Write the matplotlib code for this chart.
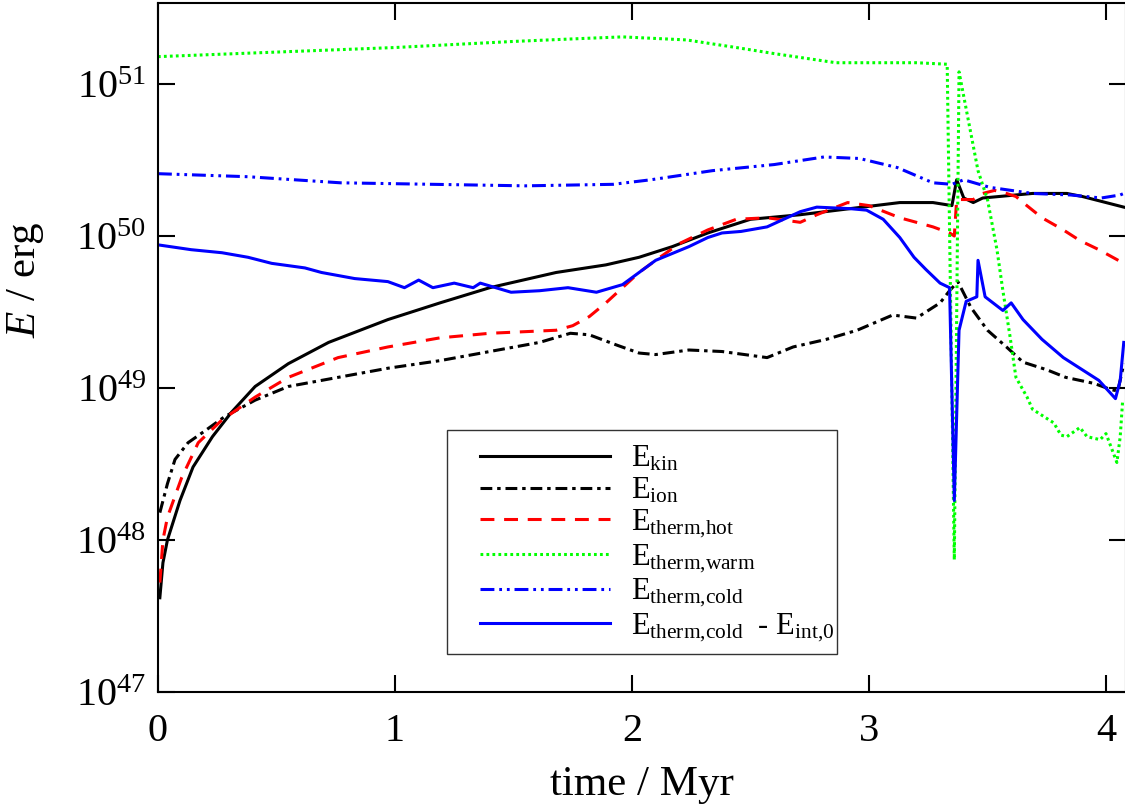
import numpy as np
import matplotlib
matplotlib.use("Agg")
import matplotlib.pyplot as plt
from matplotlib.ticker import LogLocator, NullLocator, FixedLocator
from matplotlib.patches import Rectangle

plt.rcParams['font.family'] = 'serif'
plt.rcParams['font.serif'] = ['Liberation Serif', 'DejaVu Serif']
plt.rcParams['mathtext.fontset'] = 'custom'
plt.rcParams['mathtext.rm'] = 'Liberation Serif'
plt.rcParams['mathtext.it'] = 'Liberation Serif:italic'
plt.rcParams['mathtext.bf'] = 'Liberation Serif:bold'
plt.rcParams['lines.scale_dashes'] = False

# ---- data (time in Myr, log10 of energy in erg) ----
t_kin = [0.008, 0.021, 0.04, 0.093, 0.148, 0.23, 0.31, 0.41, 0.55, 0.72, 0.97, 1.19, 1.40, 1.68, 1.89,
         2.03, 2.17, 2.32, 2.50, 2.71, 2.92, 3.13, 3.27, 3.35, 3.37, 3.40, 3.44, 3.48, 3.69, 3.835, 3.90, 4.075]
lg_kin = [47.62, 47.85, 48.0, 48.26, 48.48, 48.68, 48.84, 49.01, 49.16, 49.30, 49.45, 49.56, 49.66, 49.76, 49.81,
          49.86, 49.93, 50.02, 50.11, 50.14, 50.18, 50.22, 50.22, 50.20, 50.37, 50.25, 50.22, 50.25, 50.28, 50.28, 50.26, 50.19]

t_ion = [0.008, 0.04, 0.072, 0.127, 0.20, 0.28, 0.41, 0.55, 0.76, 0.97, 1.19, 1.40, 1.61, 1.74, 1.82, 1.94,
         2.03, 2.10, 2.24, 2.38, 2.57, 2.68, 2.82, 2.95, 3.10, 3.20, 3.30, 3.34, 3.375, 3.43, 3.50, 3.58,
         3.65, 3.75, 3.83, 3.95, 4.02, 4.05, 4.075]
lg_ion = [48.18, 48.37, 48.53, 48.64, 48.72, 48.81, 48.92, 49.01, 49.07, 49.13, 49.18, 49.24, 49.30, 49.36, 49.35, 49.28,
          49.23, 49.22, 49.25, 49.24, 49.20, 49.27, 49.32, 49.38, 49.48, 49.46, 49.56, 49.64, 49.70, 49.53, 49.38, 49.27,
          49.17, 49.12, 49.07, 49.03, 48.99, 48.98, 49.16]

t_hot = [0.008, 0.021, 0.04, 0.10, 0.17, 0.27, 0.41, 0.55, 0.76, 0.97, 1.19, 1.40, 1.68, 1.75, 1.82, 1.89, 1.96,
         2.03, 2.10, 2.20, 2.32, 2.44, 2.57, 2.71, 2.78, 2.91, 3.0, 3.13, 3.27, 3.34, 3.36, 3.37, 3.44, 3.48,
         3.53, 3.58, 3.62, 3.65, 3.73, 3.82, 3.89, 3.97, 4.075]
lg_hot = [47.72, 48.0, 48.15, 48.41, 48.64, 48.79, 48.94, 49.07, 49.20, 49.27, 49.33, 49.36, 49.38, 49.41, 49.47, 49.56, 49.66,
          49.76, 49.84, 49.95, 50.04, 50.11, 50.12, 50.09, 50.14, 50.22, 50.20, 50.12, 50.06, 50.02, 50.00, 50.24, 50.24, 50.28,
          50.30, 50.28, 50.26, 50.22, 50.12, 50.04, 49.97, 49.91, 49.82]

t_warm = [0.0, 0.5, 1.0, 1.5, 1.8, 1.96, 2.23, 2.44, 2.6, 2.86, 3.01, 3.2, 3.33, 3.36, 3.38, 3.46, 3.50, 3.54,
          3.565, 3.595, 3.62, 3.667, 3.69, 3.73, 3.78, 3.81, 3.835, 3.89, 3.92, 3.975, 4.00, 4.046, 4.06, 4.07]
lg_warm = [51.18, 51.21, 51.24, 51.28, 51.30, 51.31, 51.29, 51.24, 51.20, 51.14, 51.14, 51.14, 51.13, 47.87, 51.08, 50.43, 50.24, 49.91,
           49.64, 49.34, 49.07, 48.94, 48.86, 48.82, 48.77, 48.69, 48.68, 48.74, 48.68, 48.66, 48.70, 48.51, 48.68, 48.91]

t_cold = [0.0, 0.38, 0.77, 1.16, 1.55, 1.92, 2.08, 2.34, 2.6, 2.81, 2.96, 3.12, 3.27, 3.35, 3.40, 3.51,
          3.69, 3.85, 3.98, 4.06, 4.075]
lg_cold = [50.41, 50.39, 50.35, 50.34, 50.33, 50.34, 50.37, 50.43, 50.47, 50.52, 50.51, 50.45, 50.35, 50.34, 50.37, 50.32,
           50.28, 50.27, 50.25, 50.27, 50.28]

t_cold0 = [0.008, 0.14, 0.27, 0.38, 0.48, 0.62, 0.69, 0.83, 0.97, 1.04, 1.10, 1.16, 1.25, 1.33, 1.36, 1.49, 1.61,
           1.73, 1.85, 1.96, 2.03, 2.10, 2.24, 2.32, 2.38, 2.46, 2.57, 2.71, 2.78, 2.92, 2.99, 3.06, 3.13, 3.19,
           3.24, 3.30, 3.34, 3.36, 3.38, 3.41, 3.455, 3.46, 3.49, 3.565, 3.60, 3.65, 3.73, 3.82, 3.90, 3.97,
           4.04, 4.06, 4.075]
lg_cold0 = [49.94, 49.91, 49.89, 49.86, 49.82, 49.79, 49.76, 49.72, 49.70, 49.66, 49.71, 49.66, 49.69, 49.66, 49.69, 49.63, 49.64,
            49.66, 49.63, 49.68, 49.76, 49.84, 49.93, 49.99, 50.02, 50.03, 50.06, 50.16, 50.19, 50.18, 50.17, 50.11, 49.99, 49.86,
            49.78, 49.69, 49.66, 48.26, 49.38, 49.57, 49.60, 49.84, 49.60, 49.51, 49.56, 49.45, 49.32, 49.20, 49.12, 49.05,
            48.93, 49.05, 49.30]

labels = [r'$\mathrm{E_{kin}}$', r'$\mathrm{E_{ion}}$', r'$\mathrm{E_{therm{,}hot}}$',
          r'$\mathrm{E_{therm{,}warm}}$', r'$\mathrm{E_{therm{,}cold}}$',
          r'$\mathrm{E_{therm{,}cold}}$  - $\mathrm{E_{int{,}0}}$']

W, H = 1125, 807
fig = plt.figure(figsize=(W / 100, H / 100), dpi=100)
ax = fig.add_axes([0.1404, 0.1425, 0.8604, 0.8538])

lw = 2.2
ax.plot(t_kin, 10.0 ** np.array(lg_kin), color='black', lw=lw, label=labels[0])
ax.plot(t_ion, 10.0 ** np.array(lg_ion), color='black', lw=lw, dashes=(8.5, 3.5, 2.5, 3.5), label=labels[1])
ax.plot(t_hot, 10.0 ** np.array(lg_hot), color='#ff0000', lw=lw, dashes=(10, 7), label=labels[2])
ax.plot(t_warm, 10.0 ** np.array(lg_warm), color='#00ff00', lw=lw, dashes=(2, 2.3), label=labels[3])
ax.plot(t_cold, 10.0 ** np.array(lg_cold), color='#0000ff', lw=lw, dashes=(10, 3.5, 2, 3.5, 2, 3.5), label=labels[4])
ax.plot(t_cold0, 10.0 ** np.array(lg_cold0), color='#0000ff', lw=lw, label=labels[5])

ax.set_yscale('log')
ax.set_xlim(0, 4.084)
ax.set_ylim(1e47, 10 ** 51.533)
ax.xaxis.set_major_locator(FixedLocator([0, 1, 2, 3, 4]))
ax.yaxis.set_major_locator(LogLocator(base=10, numticks=10))
ax.yaxis.set_minor_locator(NullLocator())
ax.xaxis.set_minor_locator(NullLocator())

ax.tick_params(which='major', direction='in', length=12, width=1.5, top=True, right=True,
               labelsize=29)
ax.tick_params(axis='x', pad=15)
ax.tick_params(axis='y', pad=8.5)
for s in ax.spines.values():
    s.set_linewidth(1.5)

ax.set_xlabel('time / Myr', fontsize=31, labelpad=11)
ax.set_ylabel(r'$E$ / erg', fontsize=31)
ax.yaxis.set_label_coords(-0.116, 0.598)

# legend frame (pixel box 447..837 x 430..654) in axes fraction
ax_x0, ax_y0, ax_w, ax_h = 158, 692, 968, 689
fx0 = (447 - ax_x0) / ax_w
fx1 = (837 - ax_x0) / ax_w
fy0 = (ax_y0 - 654) / ax_h
fy1 = (ax_y0 - 430) / ax_h
ax.add_patch(Rectangle((fx0, fy0), fx1 - fx0, fy1 - fy0, transform=ax.transAxes,
                       facecolor='white', edgecolor='#333333', lw=1.0, zorder=4))

leg = ax.legend(loc='upper left', bbox_to_anchor=((480 - ax_x0) / ax_w, (ax_y0 - 444) / ax_h),
                fontsize=22, handlelength=4.25, handletextpad=0.7, labelspacing=0.08,
                borderpad=0, borderaxespad=0, frameon=False)
leg.set_zorder(5)

fig.savefig('out.png', dpi=100)
